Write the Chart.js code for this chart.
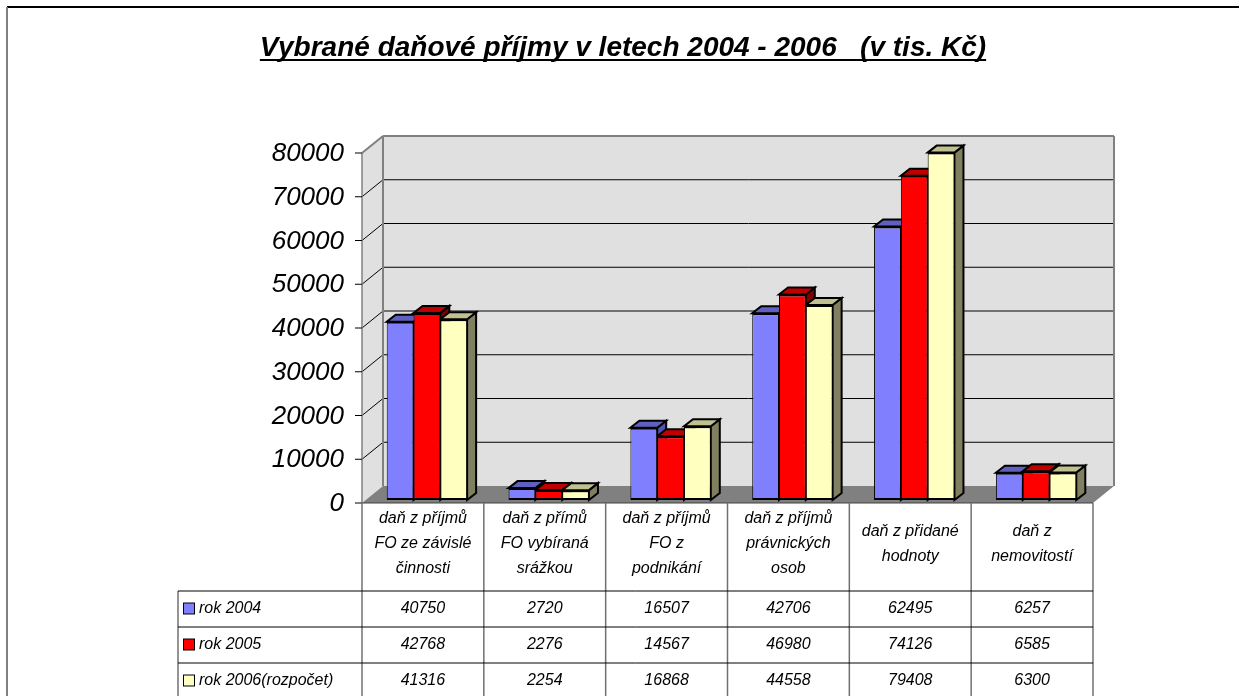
<!DOCTYPE html>
<html>
<head>
<meta charset="utf-8">
<title>Vybrané daňové příjmy</title>
<script src="https://cdn.jsdelivr.net/npm/chart.js@4/dist/chart.umd.min.js"></script>
<style>
  html, body { margin: 0; padding: 0; background: #fff; }
  canvas { display: block; }
</style>
</head>
<body>
<canvas id="graf" width="1239" height="696"></canvas>
<script>
// DATA
const titulek = "Vybrané daňové příjmy v letech 2004 - 2006   (v tis. Kč)";
const kategorie = [
  ["daň z příjmů", "FO ze závislé", "činnosti"],
  ["daň z přímů", "FO vybíraná", "srážkou"],
  ["daň z příjmů", "FO z", "podnikání"],
  ["daň z příjmů", "právnických", "osob"],
  ["daň z přidané", "hodnoty"],
  ["daň z", "nemovitostí"],
];
const rok2004 = [40750, 2720, 16507, 42706, 62495, 6257];
const rok2005 = [42768, 2276, 14567, 46980, 74126, 6585];
const rok2006 = [41316, 2254, 16868, 44558, 79408, 6300];
const nazvyRad = ["rok 2004", "rok 2005", "rok 2006(rozpočet)"];
const osaMin = 0;
const osaMax = 80000;
const osaKrok = 10000;

// BARVY
const barvyCelo = ["#8080FF", "#FF0000", "#FFFFC0"];
const barvyVrch = ["#6060C0", "#C00000", "#C0C090"];
const barvyBok = ["#5252B0", "#800000", "#808060"];
const PISMO = '"Liberation Sans", Arial, sans-serif';

// posuny roviny (vzhledem k celu sloupcu)
const OSA = { x: -4, y: 3 };
const ZADNI = { x: 17, y: -14 };
const HLOUBKA = { x: 9, y: -7 };

function poly(ctx, body, fill, stroke, lw) {
  ctx.beginPath();
  ctx.moveTo(body[0][0], body[0][1]);
  for (let i = 1; i < body.length; i++) ctx.lineTo(body[i][0], body[i][1]);
  ctx.closePath();
  if (fill) { ctx.fillStyle = fill; ctx.fill(); }
  if (stroke) { ctx.strokeStyle = stroke; ctx.lineWidth = lw || 1; ctx.stroke(); }
}

function cara(ctx, x1, y1, x2, y2, barva, lw) {
  ctx.beginPath();
  ctx.moveTo(x1, y1);
  ctx.lineTo(x2, y2);
  ctx.strokeStyle = barva;
  ctx.lineWidth = lw;
  ctx.stroke();
}

// ------------------------------
// 3D STENY, PODLAHA A BOKY SLOUPCU
// ------------------------------
const prostor3d = {
  id: "prostor3d",
  beforeDatasetsDraw(chart) {
    const ctx = chart.ctx;
    const { left, right } = chart.chartArea;
    const ys = chart.scales.y;
    const yA = (v) => ys.getPixelForValue(v) + OSA.y;
    const yB = (v) => ys.getPixelForValue(v) + ZADNI.y;
    const ax = left + OSA.x, bx0 = left + ZADNI.x, bx1 = right + ZADNI.x, ax1 = right + OSA.x;

    ctx.save();
    // bocni stena
    poly(ctx, [[ax, yA(osaMin)], [ax, yA(osaMax)], [bx0, yB(osaMax)], [bx0, yB(osaMin)]], "#E0E0E0");
    // zadni stena
    poly(ctx, [[bx0, yB(osaMax)], [bx1, yB(osaMax)], [bx1, yB(osaMin)], [bx0, yB(osaMin)]], "#E0E0E0");
    // mrizka
    for (let v = osaMin + osaKrok; v < osaMax; v += osaKrok) {
      cara(ctx, bx0, yB(v), bx1, yB(v), "#000", 1);
      cara(ctx, ax, yA(v), bx0, yB(v), "#000", 1);
    }
    // podlaha
    poly(ctx, [[ax, yA(osaMin)], [ax1, yA(osaMin)], [bx1, yB(osaMin)], [bx0, yB(osaMin)]], "#808080");
    cara(ctx, ax, yA(osaMin), ax1, yA(osaMin), "#404040", 1);
    // hrany sten
    cara(ctx, bx0, yB(osaMax), bx1, yB(osaMax), "#808080", 2);
    cara(ctx, bx1, yB(osaMax), bx1, yB(osaMin), "#808080", 2);
    cara(ctx, bx0, yB(osaMax), bx0, yB(osaMin), "#808080", 2);
    cara(ctx, ax, yA(osaMax), bx0, yB(osaMax), "#808080", 2);
    cara(ctx, ax, yA(osaMax), ax, yA(osaMin), "#808080", 1.5);
    // znacky na ose
    for (let v = osaMin; v <= osaMax; v += osaKrok) {
      cara(ctx, ax - 7, yA(v), ax, yA(v), "#000", 1);
    }

    // boky a vrchy sloupcu (cela kresli Chart.js)
    const n = chart.data.labels.length;
    for (let i = 0; i < n; i++) {
      chart.data.datasets.forEach((ds, d) => {
        const el = chart.getDatasetMeta(d).data[i];
        const xL = el.x - el.width / 2;
        const xR = el.x + el.width / 2;
        const yT = el.y;
        const yZ = el.base;
        poly(ctx, [[xR, yT], [xR + HLOUBKA.x, yT + HLOUBKA.y], [xR + HLOUBKA.x, yZ + HLOUBKA.y], [xR, yZ]], barvyBok[d], "#000", 2);
        poly(ctx, [[xL, yT], [xR, yT], [xR + HLOUBKA.x, yT + HLOUBKA.y], [xL + HLOUBKA.x, yT + HLOUBKA.y]], barvyVrch[d], "#000", 2);
      });
    }
    ctx.restore();
  },

  // ------------------------------
  // TITULEK, RAMECEK A TABULKA DAT
  // ------------------------------
  afterDraw(chart) {
    const ctx = chart.ctx;
    const { left, right } = chart.chartArea;
    const ys = chart.scales.y;
    const n = chart.data.labels.length;
    const sirka = (right - left) / n;
    const colX = (i) => left + OSA.x + i * sirka;
    const yHlava = ys.getPixelForValue(osaMin) + OSA.y;
    const yRadky = 591;
    const vyskaRadku = 36;
    const xLegenda = 178;
    const spodek = chart.height;

    ctx.save();
    // ramecek
    ctx.fillStyle = "#000";
    ctx.fillRect(7, 6, chart.width - 7, 2);
    ctx.fillStyle = "#808080";
    ctx.fillRect(6, 7, 2, spodek - 7);

    // titulek
    ctx.font = "italic bold 28px " + PISMO;
    ctx.fillStyle = "#000";
    ctx.textAlign = "center";
    ctx.textBaseline = "alphabetic";
    const tx = 623;
    ctx.fillText(titulek, tx, 56);
    const tw = ctx.measureText(titulek).width;
    ctx.fillRect(tx - tw / 2, 59, tw, 2);

    // svisle cary
    for (let i = 0; i <= n; i++) {
      cara(ctx, colX(i), yHlava, colX(i), spodek, "#707070", 1.5);
    }
    cara(ctx, xLegenda, yRadky, xLegenda, spodek, "#707070", 1.5);
    // vodorovne cary
    for (let r = 0; r < 3; r++) {
      cara(ctx, xLegenda, yRadky + r * vyskaRadku, colX(n), yRadky + r * vyskaRadku, "#000", 1);
    }

    // hlavicka
    ctx.font = "italic 16px " + PISMO;
    ctx.textBaseline = "middle";
    ctx.textAlign = "center";
    chart.data.labels.forEach((radky, i) => {
      const cx = colX(i) + sirka / 2;
      const stred = 544;
      const y0 = stred - ((radky.length - 1) * 25) / 2;
      radky.forEach((t, k) => ctx.fillText(t, cx, y0 + k * 25));
    });

    // radky s hodnotami
    chart.data.datasets.forEach((ds, d) => {
      const cy = yRadky + d * vyskaRadku + vyskaRadku / 2;
      ctx.fillStyle = barvyCelo[d];
      ctx.fillRect(183.5, cy - 6, 11, 11);
      ctx.strokeStyle = "#000";
      ctx.lineWidth = 1;
      ctx.strokeRect(183.5, cy - 6, 11, 11);
      ctx.fillStyle = "#000";
      ctx.textAlign = "left";
      ctx.fillText(ds.label, 199, cy);
      ctx.textAlign = "center";
      ds.data.forEach((v, i) => {
        ctx.fillText(String(v), colX(i) + sirka / 2, cy);
      });
    });
    ctx.restore();
  },
};

const rady = [rok2004, rok2005, rok2006];

new Chart(document.getElementById("graf"), {
  type: "bar",
  data: {
    labels: kategorie,
    datasets: rady.map((data, d) => ({
      label: nazvyRad[d],
      data: data,
      backgroundColor: barvyCelo[d],
      borderColor: "#000",
      borderWidth: { top: 2, bottom: 2, left: 1, right: 1 },
      borderSkipped: false,
      categoryPercentage: 0.66,
      barPercentage: 1,
    })),
  },
  options: {
    responsive: false,
    animation: false,
    layout: { padding: { left: 0, right: 142, top: 150, bottom: 196 } },
    plugins: {
      legend: { display: false },
      tooltip: { enabled: false },
      title: { display: false },
    },
    scales: {
      x: { display: false, offset: true },
      y: {
        min: osaMin,
        max: osaMax,
        afterFit(s) { s.width = 366; },
        grid: { display: false, drawTicks: false },
        border: { display: false },
        ticks: {
          stepSize: osaKrok,
          padding: 22,
          labelOffset: 4,
          color: "#000",
          font: { family: PISMO, size: 26, style: "italic" },
          callback: (v) => String(v),
        },
      },
    },
  },
  plugins: [prostor3d],
});
</script>
</body>
</html>
